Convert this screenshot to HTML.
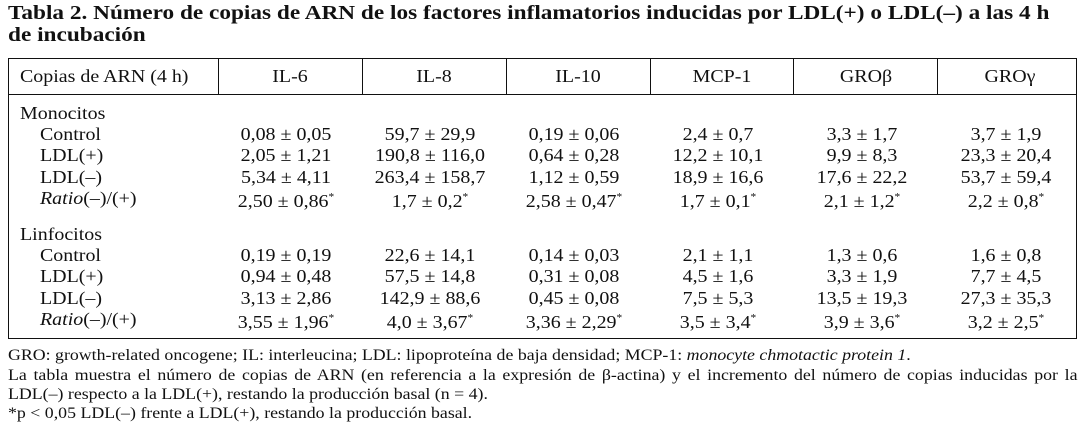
<!DOCTYPE html>
<html><head><meta charset="utf-8"><style>
body{margin:0;width:1086px;height:435px;background:#fff;position:relative;overflow:hidden;font-family:"Liberation Serif",serif;color:#111}
.t{position:absolute;white-space:nowrap;font-size:17.5px;line-height:20px;transform:scaleX(1.14);transform-origin:0 0}
.c{transform:translateX(-50%) scaleX(1.14);transform-origin:50% 0}
.title{position:absolute;left:8px;top:2px;font-weight:bold;font-size:20.5px;line-height:22px;transform:scaleX(1.135);transform-origin:0 0;white-space:nowrap}
.box{position:absolute;left:8px;top:58px;width:1069px;height:281px;border:1.3px solid #111;box-sizing:border-box}
.hl{position:absolute;left:8px;width:1069px;top:94px;border-top:1.3px solid #111}
.vl{position:absolute;top:58px;height:36px;border-left:1.3px solid #111}
.f{position:absolute;left:8px;font-size:15.5px;line-height:18px;white-space:nowrap;transform:scaleX(1.15);transform-origin:0 0}
sup{font-size:10px}
</style></head><body>
<div class="title">Tabla 2. Número de copias de ARN de los factores inflamatorios inducidas por LDL(+) o LDL(–) a las 4 h<br>de incubación</div>
<div class="box"></div>
<div class="hl"></div>
<div id="g"></div>
<div class="f" style="top:347px">GRO: growth-related oncogene; IL: interleucina; LDL: lipoproteína de baja densidad; MCP-1: <i>monocyte chmotactic protein 1</i>.</div>
<div class="f" style="top:367px;width:930px;white-space:normal;height:18px;overflow:hidden;text-align:justify;text-align-last:justify">La tabla muestra el número de copias de ARN (en referencia a la expresión de β-actina) y el incremento del número de copias inducidas por la</div>
<div class="f" style="top:386px">LDL(–) respecto a la LDL(+), restando la producción basal (n = 4).</div>
<div class="f" style="top:405px">*p &lt; 0,05 LDL(–) frente a LDL(+), restando la producción basal.</div>
<script>
const headers=["IL-6","IL-8","IL-10","MCP-1","GROβ","GROγ"];
const centers=[290,434,578,722,866,1010];
const dividers=[218,362,506,650,793,937];
const rows=[
["Monocitos",null,0],
["Control",["0,08 ± 0,05","59,7 ± 29,9","0,19 ± 0,06","2,4 ± 0,7","3,3 ± 1,7","3,7 ± 1,9"],1],
["LDL(+)",["2,05 ± 1,21","190,8 ± 116,0","0,64 ± 0,28","12,2 ± 10,1","9,9 ± 8,3","23,3 ± 20,4"],1],
["LDL(–)",["5,34 ± 4,11","263,4 ± 158,7","1,12 ± 0,59","18,9 ± 16,6","17,6 ± 22,2","53,7 ± 59,4"],1],
["<i>Ratio</i>(–)/(+)",["2,50 ± 0,86<sup>*</sup>","1,7 ± 0,2<sup>*</sup>","2,58 ± 0,47<sup>*</sup>","1,7 ± 0,1<sup>*</sup>","2,1 ± 1,2<sup>*</sup>","2,2 ± 0,8<sup>*</sup>"],1],
["Linfocitos",null,0],
["Control",["0,19 ± 0,19","22,6 ± 14,1","0,14 ± 0,03","2,1 ± 1,1","1,3 ± 0,6","1,6 ± 0,8"],1],
["LDL(+)",["0,94 ± 0,48","57,5 ± 14,8","0,31 ± 0,08","4,5 ± 1,6","3,3 ± 1,9","7,7 ± 4,5"],1],
["LDL(–)",["3,13 ± 2,86","142,9 ± 88,6","0,45 ± 0,08","7,5 ± 5,3","13,5 ± 19,3","27,3 ± 35,3"],1],
["<i>Ratio</i>(–)/(+)",["3,55 ± 1,96<sup>*</sup>","4,0 ± 3,67<sup>*</sup>","3,36 ± 2,29<sup>*</sup>","3,5 ± 3,4<sup>*</sup>","3,9 ± 3,6<sup>*</sup>","3,2 ± 2,5<sup>*</sup>"],1]
];
const tops=[103,124,145,167,188,224,245,266,288,309];
const g=document.getElementById('g');
function mk(html,x,y,cls,name){const d=document.createElement('div');d.className='t '+(cls||'');d.innerHTML=html;d.style.left=x+'px';d.style.top=y+'px';


g.appendChild(d);return d;}
dividers.forEach((x,i)=>{const d=document.createElement('div');d.className='vl';d.style.left=x+'px';


g.appendChild(d);});
mk("Copias de ARN (4 h)",20,66,'','header-label');
headers.forEach((h,i)=>mk(h,centers[i],66,'c','header-'+i));
rows.forEach((r,i)=>{mk(r[0],r[2]?40:20,tops[i],'','row-label');
if(r[1])r[1].forEach((v,j)=>mk(v,centers[j]-4,tops[i],'c','value-cell'));});
</script>
</body></html>
